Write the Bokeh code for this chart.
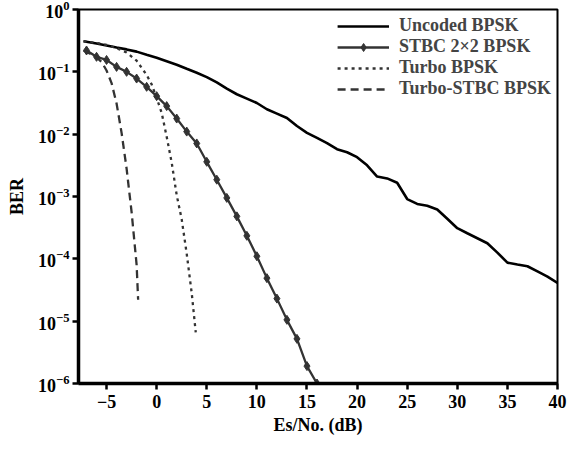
from bokeh.plotting import figure
from bokeh.models import Range1d, FixedTicker, Legend, LegendItem
from bokeh.embed import file_html
from bokeh.resources import INLINE

# ---- data ----
unc_x = [-7.3, -6, -5, -4, -3, -2, -1, 0, 1, 2, 3, 4, 5, 6, 7, 8, 9, 10, 11, 12, 13, 14, 15,
         16, 17, 18, 19, 20, 21, 22, 23, 24, 25, 26, 27, 28, 29, 30, 31, 32, 33, 34, 35,
         36, 37, 38, 39, 40]
unc_ber = [0.31, 0.285, 0.264, 0.245, 0.229, 0.211, 0.188, 0.168, 0.148, 0.130, 0.112, 0.0966,
           0.0822, 0.0676, 0.0537, 0.0437, 0.0372, 0.0316, 0.0251, 0.0214, 0.0182, 0.0135,
           0.0105, 0.0087, 0.0072, 0.00575, 0.00513, 0.00427, 0.00316, 0.00209, 0.00195,
           0.00166, 0.00091, 0.00076, 0.00071, 0.00062, 0.00044, 0.00031, 0.000257, 0.000214,
           0.000178, 0.000126, 8.7e-5, 8.1e-5, 7.6e-5, 6.3e-5, 5.2e-5, 4.1e-5]

stbc_x = [-7, -6, -5, -4, -3, -2, -1, 0, 1, 2, 3, 4, 5, 6, 7, 8, 9, 10, 11, 12, 13, 14, 15, 16]
stbc_ber = [0.22, 0.174, 0.155, 0.12, 0.10, 0.078, 0.0575, 0.0407, 0.0282, 0.0178, 0.011,
            0.0071, 0.0036, 0.00186, 0.00095, 0.00048, 0.000234, 0.00011, 4.9e-5, 2.3e-5,
            1.05e-5, 5.2e-6, 1.9e-6, 1.0e-6]

turbo_x = [-7.3, -6, -5, -4, -3, -2, -1, -0.5, 0, 0.5, 1, 1.5, 2, 2.5, 3, 3.5, 3.9]
turbo_ber = [0.31, 0.29, 0.27, 0.24, 0.204, 0.151, 0.089, 0.063, 0.038, 0.022, 0.0091,
             0.0035, 0.00105, 0.00043, 0.00012, 2.8e-5, 6.6e-6]

tstbc_x = [-7.3, -6.5, -6, -5.5, -5, -4.5, -4, -3.5, -3, -2.5, -2, -1.85]
tstbc_ber = [0.22, 0.19, 0.17, 0.145, 0.105, 0.066, 0.031, 0.0105, 0.0028, 0.00056, 8e-5, 2.2e-5]

x_ticks = [-5, 0, 5, 10, 15, 20, 25, 30, 35, 40]
y_ticks = [1e-6, 1e-5, 1e-4, 1e-3, 1e-2, 1e-1, 1]

labels = ["Uncoded BPSK", "STBC 2\u00d72 BPSK", "Turbo BPSK", "Turbo-STBC BPSK"]

FONT = "Liberation Serif"

p = figure(width=569, height=446, output_backend="svg", toolbar_location=None,
           y_axis_type="log", x_range=Range1d(-7.8, 40), y_range=Range1d(1e-6, 1),
           min_border_left=78, min_border_right=12, min_border_top=9, min_border_bottom=63)

p.xgrid.visible = False
p.ygrid.visible = False
p.outline_line_color = "black"
p.outline_line_width = 2

r_unc = p.line(unc_x, unc_ber, line_color="black", line_width=2.6)
r_stbc = p.line(stbc_x, stbc_ber, line_color="#333333", line_width=2.3)
r_stbc_m = p.scatter(stbc_x, stbc_ber, marker="diamond", size=9, fill_color="#333333",
                     line_color="#333333")
r_turbo = p.line(turbo_x, turbo_ber, line_color="#333333", line_width=2.3, line_dash="3 4")
r_tstbc = p.line(tstbc_x, tstbc_ber, line_color="#333333", line_width=2.3, line_dash="8 5")

p.xaxis.ticker = FixedTicker(ticks=x_ticks, minor_ticks=[])
p.yaxis.ticker = FixedTicker(ticks=y_ticks, minor_ticks=[])

for ax in (p.xaxis[0], p.yaxis[0]):
    ax.axis_line_width = 3.5
    ax.axis_line_color = "black"
    ax.major_tick_line_width = 2.5
    ax.major_tick_in = 0
    ax.major_tick_out = 6
    ax.minor_tick_line_color = None
    ax.major_label_text_font = FONT
    ax.major_label_text_font_size = "18px"
    ax.major_label_text_font_style = "bold"
    ax.major_label_text_color = "black"
    ax.axis_label_text_font = FONT
    ax.axis_label_text_font_size = "18px"
    ax.axis_label_text_font_style = "bold"
    ax.axis_label_text_color = "black"

p.xaxis.axis_label = "Es/No. (dB)"
p.yaxis.axis_label = "BER"
p.xaxis.major_label_standoff = 5
p.yaxis.major_label_standoff = 3
p.xaxis.axis_label_standoff = 4
p.yaxis.axis_label_standoff = 8

legend = Legend(items=[
    LegendItem(label=labels[0], renderers=[r_unc]),
    LegendItem(label=labels[1], renderers=[r_stbc, r_stbc_m]),
    LegendItem(label=labels[2], renderers=[r_turbo]),
    LegendItem(label=labels[3], renderers=[r_tstbc]),
], location="top_right")
legend.label_text_font = FONT
legend.label_text_font_size = "18px"
legend.label_text_font_style = "bold"
legend.label_height = 20
legend.glyph_height = 20
legend.glyph_width = 52
legend.spacing = 0
legend.label_standoff = 10
legend.padding = 3
legend.margin = 3
legend.border_line_alpha = 0
legend.background_fill_alpha = 0
p.add_layout(legend)

open("out.html", "w").write(file_html(p, INLINE))
